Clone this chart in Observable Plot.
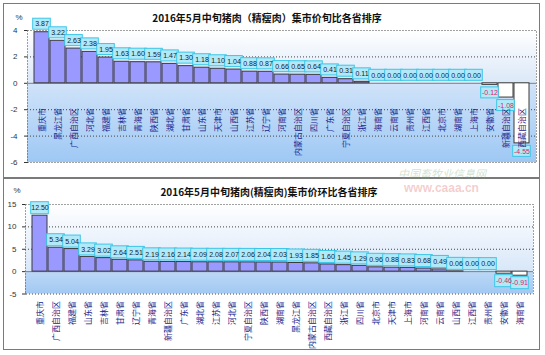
<!DOCTYPE html>
<html><head><meta charset="utf-8">
<script src="https://cdn.jsdelivr.net/npm/d3@7"></script>
<script src="https://cdn.jsdelivr.net/npm/@observablehq/plot@0.6"></script>
<style>
body{margin:0;background:#fff;font-family:"Noto Sans CJK SC",sans-serif;}
#wrap{position:relative;width:545px;height:355px;overflow:hidden;background:#fff;}
.panel{position:absolute;border:1px solid #7a7a7a;box-sizing:border-box;}
.title{position:absolute;font-weight:bold;font-size:10px;line-height:12px;color:#111;transform:translate(-50%,-50%);white-space:nowrap;font-family:"Noto Sans CJK SC",sans-serif;}
.chart{position:absolute;left:0;}
.wm{position:absolute;white-space:nowrap;}
</style></head>
<body>
<svg width="0" height="0" style="position:absolute">
<defs>
<linearGradient id="gTopPos" x1="0" y1="0" x2="0" y2="1"><stop offset="0" stop-color="#ffffff"/><stop offset="1" stop-color="#dbe8f8"/></linearGradient>
<linearGradient id="gTopNeg" x1="0" y1="0" x2="0" y2="1"><stop offset="0" stop-color="#d0e3f9"/><stop offset="1" stop-color="#9ec8f4"/></linearGradient>
<linearGradient id="gBotPos" x1="0" y1="0" x2="0" y2="1"><stop offset="0" stop-color="#ffffff"/><stop offset="1" stop-color="#d8e7f8"/></linearGradient>
<linearGradient id="gBotNeg" x1="0" y1="0" x2="0" y2="1"><stop offset="0" stop-color="#bcd8f6"/><stop offset="1" stop-color="#a2c9f2"/></linearGradient>
</defs>
</svg>
<div id="wrap">
  <div class="panel" style="left:3px;top:3px;width:537px;height:175px"></div>
  <div class="panel" style="left:3px;top:178px;width:537px;height:172px"></div>
  <div class="wm" style="left:398px;top:165px;font-size:11px;font-style:italic;color:rgba(120,170,120,0.35);">中国畜牧业信息网</div>
  <div class="wm" style="left:404px;top:181px;font-size:12px;font-weight:bold;font-family:'Liberation Sans',sans-serif;color:rgba(225,110,110,0.35);">www.caaa.cn</div>
  <div id="c1" class="chart" style="top:0px"></div>
  <div id="c2" class="chart" style="top:177px"></div>
  <div class="title" style="left:267px;top:18px">2016年5月中旬猪肉（精瘦肉）集市价旬比各省排序</div>
  <div class="title" style="left:269px;top:192px">2016年5月中旬猪肉(精瘦肉)集市价环比各省排序</div>
</div>
<script>
// ---- Panel 1: 旬比 ----
const topNames = ["重庆市","黑龙江省","广西自治区","河北省","福建省","吉林省","青海省","陕西省","湖北省","甘肃省","山东省","天津市","山西省","江苏省","辽宁省","河南省","内蒙古自治区","四川省","广东省","宁夏自治区","浙江省","海南省","云南省","贵州省","江西省","北京市","湖南省","上海市","安徽省","新疆自治区","西藏自治区"];
const topValues = [3.87,3.22,2.63,2.38,1.95,1.63,1.60,1.59,1.47,1.30,1.18,1.10,1.04,0.88,0.87,0.66,0.65,0.64,0.41,0.31,0.11,0.00,0.00,0.00,0.00,0.00,0.00,0.00,-0.12,-1.08,-4.55];
const topTicks = [-6,-4,-2,0,2,4];

// ---- Panel 2: 环比 ----
const botNames = ["重庆市","广西自治区","福建省","山东省","吉林省","甘肃省","辽宁省","青海省","新疆自治区","广东省","湖北省","江苏省","河北省","宁夏自治区","陕西省","湖南省","黑龙江省","内蒙古自治区","西藏自治区","浙江省","四川省","北京市","天津市","上海市","河南省","云南省","山西省","江西省","贵州省","安徽省","海南省"];
const botValues = [12.50,5.34,5.04,3.29,3.02,2.64,2.51,2.19,2.16,2.14,2.09,2.08,2.07,2.06,2.04,2.03,1.93,1.85,1.60,1.45,1.29,0.96,0.88,0.83,0.68,0.49,0.06,0.00,0.00,-0.46,-0.91];
const botTicks = [-5,0,5,10,15];

function makeChart(o) {
  const data = o.names.map((name, i) => ({name, value: o.values[i]}));
  const pos = data.filter(d => d.value >= 0);
  const neg = data.filter(d => d.value < 0);
  const [lo, hi] = o.domain;
  const bh = o.boxH;
  return Plot.plot({
    width: 545, height: o.height,
    marginTop: o.mt, marginBottom: o.mb, marginLeft: o.ml, marginRight: o.mr,
    style: {background: "transparent", fontSize: "8px", fontFamily: "'Liberation Sans', sans-serif", color: "#333", overflow: "visible"},
    x: {type: "band", domain: o.names, padding: 0.09, axis: null},
    y: {domain: o.domain, ticks: o.ticks, tickSize: 3, tickPadding: o.tp, line: true, label: null, tickFormat: d => String(d)},
    marks: [
      Plot.rect([{a: 0, b: hi}], {y1: "a", y2: "b", fill: o.gPos}),
      Plot.rect([{a: lo, b: 0}], {y1: "a", y2: "b", fill: o.gNeg}),
      Plot.ruleY(o.ticks.filter(t => t !== 0 && t !== lo && t !== hi), {stroke: "#444", strokeDasharray: "1,2"}),
      Plot.frame({stroke: "#444", strokeDasharray: "1,2"}),
      Plot.ruleY([0], {stroke: "#7f7f7f"}),
      Plot.barY(pos, {x: "name", y: "value", fill: "#9999ff", stroke: "#3a3a3a", strokeWidth: 1}),
      Plot.barY(neg, {x: "name", y: "value", fill: "#ffffff", stroke: "#3a3a3a", strokeWidth: 1}),
      Plot.barY(pos, {x: "name", y1: "value", y2: "value", insetTop: -(bh + o.gap), insetBottom: o.gap, insetLeft: -1.3, insetRight: -1.3, fill: "#b2e9f9", stroke: "#3cc6e6", strokeWidth: 1}),
      Plot.barY(neg, {x: "name", y1: "value", y2: "value", insetTop: o.gap, insetBottom: -(bh + o.gap), insetLeft: -1.3, insetRight: -1.3, fill: "#b2e9f9", stroke: "#3cc6e6", strokeWidth: 1}),
      Plot.text(pos, {x: "name", y: "value", text: d => d.value.toFixed(2), dy: -(o.gap + bh / 2), fill: "#1a1a1a", fontSize: 7, fontFamily: "'Liberation Sans', sans-serif"}),
      Plot.text(neg, {x: "name", y: "value", text: d => d.value.toFixed(2), dy: (o.gap + bh / 2), fill: "#e0206a", fontSize: 7, fontFamily: "'Liberation Sans', sans-serif"}),
      Plot.text(data, {x: "name", text: "name", frameAnchor: "bottom", dy: o.labelDy, rotate: -90, textAnchor: "end", lineAnchor: "middle", fill: "#23238c", fontSize: 8, fontFamily: "'Noto Sans CJK SC', sans-serif"}),
      Plot.text(["%"], {text: d => d, frameAnchor: "top-left", dx: o.pdx, dy: o.pdy, fill: "#333", fontSize: 8})
    ]
  });
}

document.getElementById("c1").append(makeChart({
  names: topNames, values: topValues, ticks: topTicks, domain: [-6, 4],
  height: 177, mt: 30, mb: 15, ml: 27, mr: 9, tp: 7,
  gPos: "url(#gTopPos)", gNeg: "url(#gTopNeg)", boxH: 11, gap: 2.5,
  labelDy: -54.5, pdx: -12, pdy: -16
}));
document.getElementById("c2").append(makeChart({
  names: botNames, values: botValues, ticks: botTicks, domain: [-5, 15],
  height: 176, mt: 27, mb: 59.5, ml: 25, mr: 12, tp: 6,
  gPos: "url(#gBotPos)", gNeg: "url(#gBotNeg)", boxH: 12, gap: 1.5,
  labelDy: 7, pdx: -12, pdy: -17
}));
</script>
</body></html>
